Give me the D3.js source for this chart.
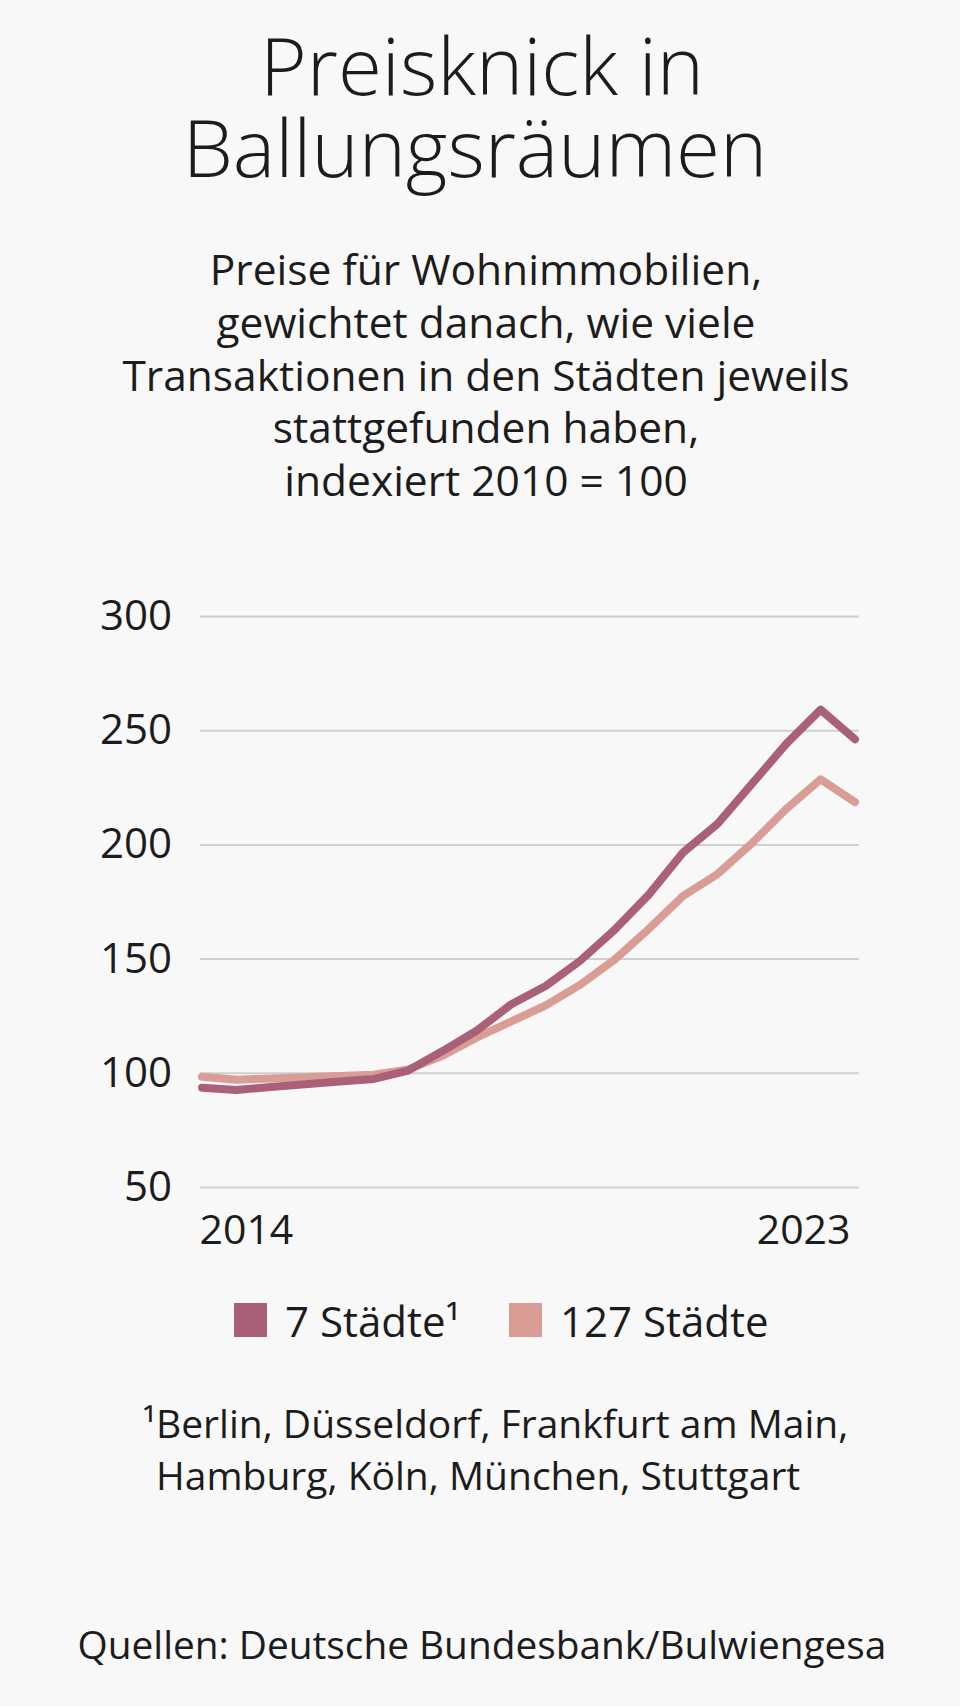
<!DOCTYPE html>
<html>
<head>
<meta charset="utf-8">
<script src="https://cdn.jsdelivr.net/npm/d3@7"></script>
<style>
  html, body { margin: 0; padding: 0; background: #f8f8f8; }
  svg { display: block; }
  text { font-family: "Open Sans", "Noto Sans", sans-serif; fill: #1c1c1c; }
</style>
</head>
<body>
<svg id="chart" width="960" height="1706"></svg>
<script>
// ---- data ----
const periods = ["2014-1","2014-2","2015-1","2015-2","2016-1","2016-2","2017-1","2017-2","2018-1","2018-2",
                 "2019-1","2019-2","2020-1","2020-2","2021-1","2021-2","2022-1","2022-2","2023-1","2023-2"];
const sevenCities = [93.5, 92.5, 93.8, 95.0, 96.2, 97.3, 101, 109.5, 118.5, 130,
                     138, 149, 162.5, 178, 196.5, 209, 226.5, 244, 259, 246];
const cities127 = [98.3, 97, 97.5, 98, 98.6, 99.2, 101.5, 107.5, 115.5, 122.5,
                   129.5, 138.5, 149.5, 163, 177.5, 187, 200.5, 215.5, 228.5, 218.5];
const yTicks = [50, 100, 150, 200, 250, 300];
const xTickLabels = ["2014", "2023"];
const seriesNames = ["7 Städte¹", "127 Städte"];
const seriesColors = ["#aa6079", "#d99d96"];
const titleLines = ["Preisknick in", "Ballungsräumen"];
const subtitleLines = ["Preise für Wohnimmobilien,", "gewichtet danach, wie viele",
  "Transaktionen in den Städten jeweils", "stattgefunden haben,", "indexiert 2010 = 100"];
const footnoteLines = ["Berlin, Düsseldorf, Frankfurt am Main,", "Hamburg, Köln, München, Stuttgart"];
const sourceText = "Quellen: Deutsche Bundesbank/Bulwiengesa";

// ---- drawing ----
const svg = d3.select("#chart");
svg.append("rect").attr("width", 960).attr("height", 1706).attr("fill", "#f8f8f8");

// title (one text element, two lines)
const title = svg.append("text")
  .attr("text-anchor", "middle")
  .attr("font-size", 80).attr("font-weight", 300);
title.selectAll("tspan").data(titleLines).join("tspan")
  .attr("x", (d, i) => i === 0 ? 482 : 475)
  .attr("y", (d, i) => 95 + i * 82)
  .text(d => d);

// subtitle (one text element, several lines)
const sub = svg.append("text")
  .attr("text-anchor", "middle")
  .attr("font-size", 42.5);
sub.selectAll("tspan").data(subtitleLines).join("tspan")
  .attr("x", 486).attr("y", (d, i) => 285 + i * 52.8)
  .text(d => d);

const x = d3.scaleLinear().domain([0, periods.length - 1]).range([202, 855]);
const y = d3.scaleLinear().domain([50, 300]).range([1187, 616]);

// grid lines + y labels
const yAxis = d3.axisLeft(y).tickValues(yTicks).tickSize(-659).tickPadding(28).tickFormat(d3.format("d"));
const gY = svg.append("g").attr("transform", "translate(200,0)").call(yAxis);
gY.select(".domain").remove();
gY.selectAll(".tick line").attr("stroke", "#cfcfcf").attr("stroke-width", 2);
gY.selectAll(".tick text").attr("font-size", 42).attr("fill", "#1c1c1c")
  .attr("font-family", "'Open Sans', sans-serif");

// x labels
const xAxis = d3.axisBottom(x).tickValues([0, periods.length - 1])
  .tickFormat((d, i) => xTickLabels[i]).tickSize(0).tickPadding(0);
const gX = svg.append("g").attr("transform", "translate(0,1244)").call(xAxis);
gX.select(".domain").remove();
gX.selectAll(".tick text").attr("font-size", 41).attr("fill", "#1c1c1c")
  .attr("font-family", "'Open Sans', sans-serif")
  .attr("dy", 0)
  .attr("text-anchor", (d, i) => i === 0 ? "start" : "end")
  .attr("x", (d, i) => i === 0 ? -3 : -5);

// lines
const line = d3.line().x((d, i) => x(i)).y(d => y(d));
[cities127, sevenCities].forEach((s, k) => {
  svg.append("path").datum(s)
    .attr("d", line)
    .attr("fill", "none")
    .attr("stroke", k === 0 ? seriesColors[1] : seriesColors[0])
    .attr("stroke-width", 8)
    .attr("stroke-linejoin", "round")
    .attr("stroke-linecap", "round");
});

// legend
const legendX = [234, 509];
const lg = svg.append("g");
seriesNames.forEach((name, i) => {
  lg.append("rect").attr("x", legendX[i]).attr("y", 1303).attr("width", 33).attr("height", 34)
    .attr("fill", seriesColors[i]);
  lg.append("text").attr("x", legendX[i] + 51).attr("y", 1337)
    .attr("font-size", 42).text(name);
});

// footnote
const fn = svg.append("text").attr("font-size", 39);
fn.append("tspan").attr("x", 156).attr("y", 1438).attr("text-anchor", "end").text("¹");
fn.selectAll("tspan.l").data(footnoteLines).join("tspan").attr("class", "l")
  .attr("x", 156).attr("y", (d, i) => 1438 + i * 52)
  .text(d => d);

// source
svg.append("text").attr("x", 482).attr("y", 1659).attr("text-anchor", "middle")
  .attr("font-size", 38.8).text(sourceText);
</script>
</body>
</html>
